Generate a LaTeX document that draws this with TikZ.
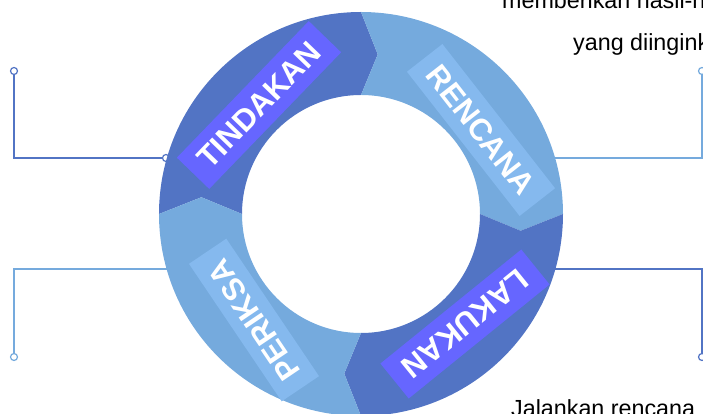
\documentclass[tikz,border=0pt]{standalone}
\usepackage{fontspec}
\setmainfont{Liberation Sans}

\definecolor{ringdark}{HTML}{5274C4}
\definecolor{ringlight}{HTML}{75AADD}
\definecolor{boxdark}{HTML}{6666FF}
\definecolor{boxlight}{HTML}{85B9EE}

\tikzset{
  wire/.style={draw=#1, line width=1.3pt},
  enddot/.style={circle, draw=#1, fill=white, line width=1.2pt,
    inner sep=0pt, minimum size=7pt},
  phasebox/.style={fill=#1, text=white, inner xsep=14pt, minimum height=45pt,
    font=\bfseries\fontsize{31}{31}\selectfont},
  note/.style={anchor=base west, inner sep=0pt,
    font=\fontsize{23.3}{28}\selectfont}
}

\begin{document}
\begin{tikzpicture}[x=1pt, y=1pt]
  \useasboundingbox (-361,-200) rectangle (342,214);
  \clip (-361,-200) rectangle (342,214);

  % Connectors, left side
  \node[enddot=ringdark] (tltop) at (-347,143) {};
  \coordinate (tlbend) at (-347,56);
  \node[enddot=ringdark] (tlring) at (-195,56) {};
  \draw[wire=ringdark] (tltop) -- (tlbend) -- (tlring);

  \node[enddot=ringlight] (blbot) at (-347,-143) {};
  \coordinate (blbend) at (-347,-55);
  \coordinate (blring) at (-185,-55);
  \draw[wire=ringlight] (blbot) -- (blbend) -- (blring);

  % Connectors, right side
  \node[enddot=ringlight] (trtop) at (341,143) {};
  \coordinate (trbend) at (341,56);
  \coordinate (trring) at (185,56);
  \draw[wire=ringlight] (trtop) -- (trbend) -- (trring);

  \node[enddot=ringdark] (brbot) at (341,-143) {};
  \coordinate (brbend) at (341,-55);
  \coordinate (brring) at (185,-55);
  \draw[wire=ringdark] (brbot) -- (brbend) -- (brring);

  % Ring segments
  \fill[ringdark] (180:202) arc[start angle=180, end angle=90, radius=202]
    -- (84:160.5) -- (90:119) arc[start angle=90, end angle=180, radius=119]
    -- (174:160.5) -- cycle;
  \fill[ringlight] (90:202) arc[start angle=90, end angle=0, radius=202]
    -- (-6:160.5) -- (0:119) arc[start angle=0, end angle=90, radius=119]
    -- (84:160.5) -- cycle;
  \fill[ringdark] (0:202) arc[start angle=0, end angle=-90, radius=202]
    -- (-96:160.5) -- (-90:119) arc[start angle=-90, end angle=0, radius=119]
    -- (-6:160.5) -- cycle;
  \fill[ringlight] (-90:202) arc[start angle=-90, end angle=-180, radius=202]
    -- (174:160.5) -- (180:119) arc[start angle=180, end angle=270, radius=119]
    -- (-96:160.5) -- cycle;

  % Phase labels
  \node[phasebox=boxdark, rotate=46] (tindakan) at (-102,109) {TINDAKAN};
  \node[phasebox=boxlight, rotate=-52] (rencana) at (120,84) {RENCANA};
  \node[phasebox=boxdark, rotate=-141] (lakukan) at (104,-110) {LAKUKAN};
  \node[phasebox=boxlight, rotate=124] (periksa) at (-107,-106) {PERIKSA};

  % Notes
  \node[note] (plan1) at (141,205) {memberikan hasil-h};
  \node[note] (plan2) at (212,163) {yang diingink};
  \node[note] (doit) at (150,-202) {Jalankan rencana};
\end{tikzpicture}
\end{document}
